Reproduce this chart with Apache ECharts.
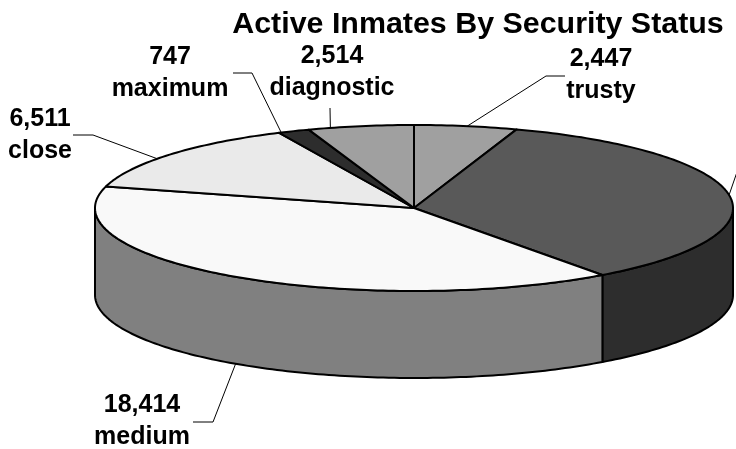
<!DOCTYPE html>
<html><head><meta charset="utf-8">
<style>html,body{margin:0;padding:0;background:#fff}#c{width:736px;height:449px}</style>
<script src="https://cdn.jsdelivr.net/npm/echarts@6/dist/echarts.min.js"></script>
</head><body><div id="c"></div>
<script>
// Data, clockwise from 12 o'clock
const categories = ['trusty', 'minimum', 'medium', 'close', 'maximum', 'diagnostic'];
// The second value's label is cut off by the frame: estimated from its slice angle
const values = [2447, 16300, 18414, 6511, 747, 2514];
const topColors = ['#A0A0A0', '#595959', '#F9F9F9', '#EAEAEA', '#2D2D2D', '#A0A0A0'];
const sideColors = ['#808080', '#2D2D2D', '#808080', '#808080', '#808080', '#808080'];
const titleText = 'Active Inmates By Security Status';

// Layout
const cx = 414, cy = 208, rx = 319, ry = 83, depth = 87;
const labelPos = [[601, 75], null, [142, 421], [40, 135], [170, 73], [332, 72]];
// leader: angle on the rim (deg), then elbow points
const leaderAngle = [9.6, 81, 214, 306.4, 335.4, 344.8];
const leaderPts = [
  [[546, 76], [565, 76]],
  [[746, 146]],
  [[213, 422], [193, 422]],
  [[93, 135], [73, 135]],
  [[252, 73], [233, 73]],
  [[330, 108]]
];

const total = values.reduce((a, b) => a + b, 0);
const starts = [];
values.reduce((acc, v, i) => { starts[i] = acc; return acc + v / total * 360; }, 0);
const rim = (deg, dy) => {
  const r = deg * Math.PI / 180;
  return [cx + rx * Math.sin(r), cy - ry * Math.cos(r) + (dy || 0)];
};
const arc = (a0, a1, dy) => {
  const pts = [], n = Math.max(2, Math.ceil(Math.abs(a1 - a0)));
  for (let i = 0; i <= n; i++) pts.push(rim(a0 + (a1 - a0) * i / n, dy));
  return pts;
};
const edge = { stroke: '#000', lineWidth: 2, lineJoin: 'round' };

function renderItem(params) {
  const i = params.dataIndex;
  const a0 = starts[i], a1 = a0 + values[i] / total * 360;
  const children = [];
  const s = Math.max(a0, 90), e = Math.min(a1, 270);
  if (e > s) {
    children.push({
      type: 'polygon',
      shape: { points: arc(s, e, 0).concat(arc(e, s, depth)) },
      style: Object.assign({ fill: sideColors[i] }, edge)
    });
  }
  children.push({
    type: 'polygon',
    shape: { points: [[cx, cy]].concat(arc(a0, a1, 0)) },
    style: Object.assign({ fill: topColors[i] }, edge)
  });
  return { type: 'group', children };
}

function renderLabels(params) {
  const i = params.dataIndex;
  const a = leaderAngle[i];
  const onFront = a > 90 && a < 270;
  const pts = [rim(a, onFront ? depth : 0)].concat(leaderPts[i]);
  const children = [{
    type: 'polyline',
    shape: { points: pts },
    style: { stroke: '#000', lineWidth: 1, fill: null }
  }];
  if (labelPos[i]) {
    children.push({
      type: 'text',
      x: labelPos[i][0], y: labelPos[i][1],
      style: {
        text: values[i].toLocaleString('en-US') + '\n' + categories[i],
        fontFamily: '"Liberation Sans", Arial, sans-serif',
        fontWeight: 'bold', fontSize: 25, lineHeight: 32,
        fill: '#000', align: 'center', verticalAlign: 'middle'
      }
    });
  }
  return { type: 'group', children };
}

const chart = echarts.init(document.getElementById('c'), null, { renderer: 'canvas' });
chart.setOption({
  animation: false,
  backgroundColor: '#fff',
  title: {
    text: titleText, left: 473, top: 5, textAlign: 'center',
    textStyle: { fontFamily: '"Liberation Sans", Arial, sans-serif', fontWeight: 'bold', fontSize: 30.4, color: '#000' }
  },
  series: [
    { type: 'custom', coordinateSystem: 'none', renderItem, data: values, silent: true, z: 2 },
    { type: 'custom', coordinateSystem: 'none', renderItem: renderLabels, data: values, silent: true, z: 3 }
  ]
});
</script></body></html>
